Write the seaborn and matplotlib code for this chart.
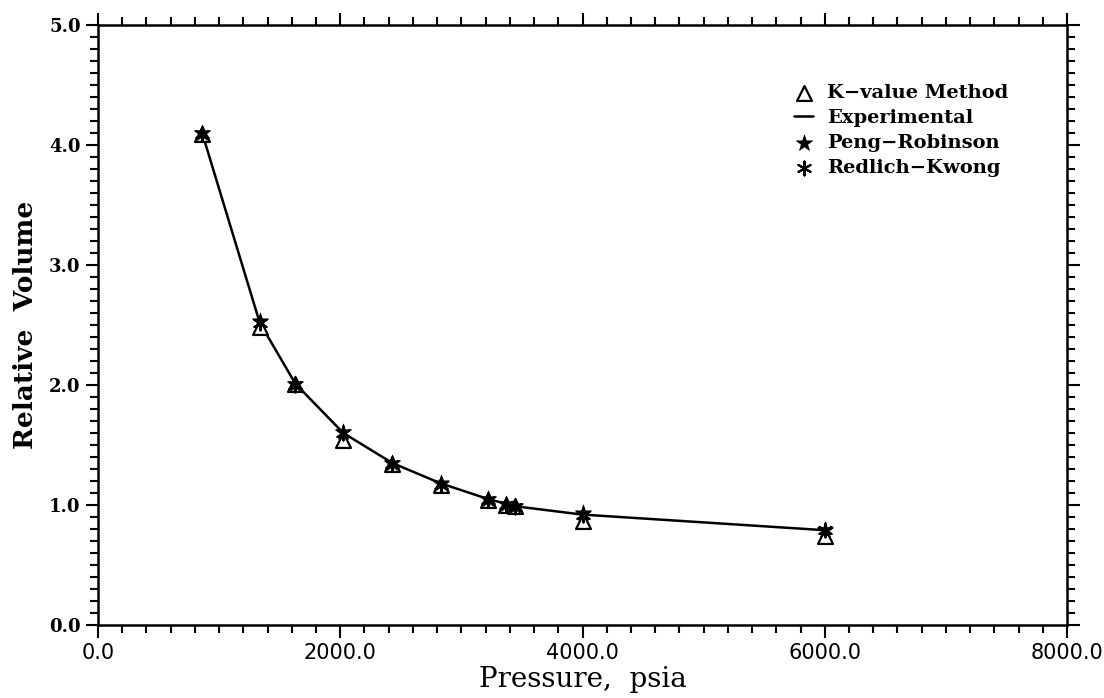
import numpy as np
import pandas as pd
import matplotlib
matplotlib.use("Agg")
import matplotlib.pyplot as plt
import seaborn as sns
from matplotlib.ticker import MultipleLocator, FormatStrFormatter

# ---- data ----
pressure = [860, 1335, 1630, 2025, 2430, 2830, 3220, 3370, 3440, 4000, 6000]
experimental = [4.10, 2.52, 2.01, 1.60, 1.35, 1.18, 1.05, 1.01, 0.99, 0.92, 0.79]
peng_robinson = [4.10, 2.53, 2.01, 1.61, 1.35, 1.18, 1.05, 1.01, 0.99, 0.93, 0.79]
redlich_kwong = [4.09, 2.52, 2.00, 1.60, 1.34, 1.17, 1.04, 1.00, 0.98, 0.92, 0.79]
k_value = [4.09, 2.48, 2.01, 1.54, 1.34, 1.17, 1.04, 1.00, 0.99, 0.87, 0.74]

x_ticks = [0, 2000, 4000, 6000, 8000]
y_ticks = [0, 1, 2, 3, 4, 5]

df = pd.DataFrame({"p": pressure, "exp": experimental, "pr": peng_robinson,
                   "rk": redlich_kwong, "k": k_value})

sns.set_style("ticks")
plt.rcParams['font.family'] = ['DejaVu Serif']
plt.rcParams.update({"text.color": "black", "axes.labelcolor": "black",
                     "xtick.color": "black", "ytick.color": "black",
                     "axes.edgecolor": "black"})

fig = plt.figure(figsize=(11.04, 6.98), dpi=100)
ax = fig.add_axes([98/1104, 73/698, 969/1104, 600/698])

sns.scatterplot(data=df, x="p", y="k", ax=ax, marker="^", s=115,
                facecolor="white", edgecolor="black", linewidth=1.6,
                label="K\u2212value Method", zorder=3)
sns.lineplot(data=df, x="p", y="exp", ax=ax, color="black", linewidth=1.8,
             label="Experimental", zorder=2)
sns.scatterplot(data=df, x="p", y="pr", ax=ax, marker="*", s=150,
                color="black", edgecolor="black", linewidth=0.5,
                label="Peng\u2212Robinson", zorder=4)
sns.scatterplot(data=df, x="p", y="rk", ax=ax, marker=(6, 2, 0), s=100,
                color="black", edgecolor="black", linewidth=1.5,
                label="Redlich\u2212Kwong", zorder=5)

ax.set_xlim(0, 8000)
ax.set_ylim(0, 5)
ax.set_xticks(x_ticks)
ax.set_yticks(y_ticks)
ax.xaxis.set_minor_locator(MultipleLocator(200))
ax.yaxis.set_minor_locator(MultipleLocator(0.1))
ax.xaxis.set_major_formatter(FormatStrFormatter("%.1f"))
ax.yaxis.set_major_formatter(FormatStrFormatter("%.1f"))

for side in ["top", "right", "left", "bottom"]:
    ax.spines[side].set_visible(True)
    ax.spines[side].set_linewidth(1.8)
    ax.spines[side].set_color("black")

ax.tick_params(which="both", direction="out", top=True, right=True,
               color="black", width=1.5, labelcolor="black")
ax.tick_params(which="major", length=9)
ax.tick_params(which="minor", length=6)
ax.tick_params(axis="x", which="major", pad=4)
for lab in ax.get_xticklabels():
    lab.set_fontfamily("DejaVu Sans")
    lab.set_fontsize(15)
for lab in ax.get_yticklabels():
    lab.set_fontfamily("DejaVu Serif")
    lab.set_fontweight("bold")
    lab.set_fontsize(13)

ax.set_xlabel("Pressure,  psia", fontsize=20, labelpad=2, color="black")
ax.set_ylabel("Relative  Volume", fontsize=19, fontweight="bold", labelpad=8,
              color="black")

leg = ax.legend(loc="upper left", bbox_to_anchor=(0.700, 0.93), frameon=False,
                handlelength=1.0, handletextpad=0.7, labelspacing=0.35,
                prop={"family": "DejaVu Serif", "weight": "bold", "size": 14})
for t in leg.get_texts():
    t.set_color("black")

fig.savefig("out.png", dpi=100, facecolor="white")
